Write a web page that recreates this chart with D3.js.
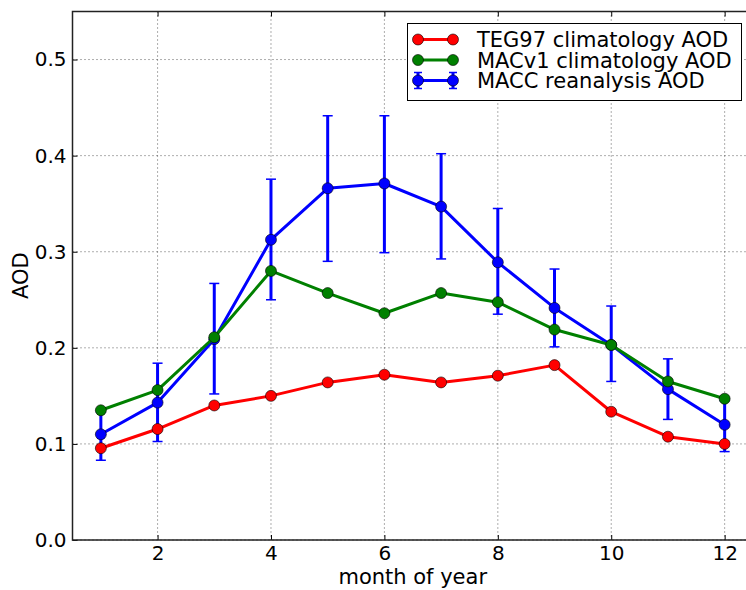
<!DOCTYPE html>
<html lang="en">
<head>
<meta charset="utf-8">
<title>AOD climatology</title>
<script src="https://d3js.org/d3.v7.min.js"></script>
<style>
  body { margin: 0; background: #fff; }
  text { font-family: "DejaVu Sans", sans-serif; fill: #000; }
</style>
</head>
<body>
<script>
// monthly values
var months = [1, 2, 3, 4, 5, 6, 7, 8, 9, 10, 11, 12];
var teg97 = [0.0955, 0.1155, 0.140, 0.150, 0.164, 0.172, 0.164, 0.171, 0.182, 0.1335, 0.1075, 0.100];
var macv1 = [0.135, 0.156, 0.211, 0.280, 0.257, 0.236, 0.257, 0.2475, 0.219, 0.203, 0.165, 0.147];
var macc = [0.110, 0.143, 0.209, 0.3125, 0.366, 0.371, 0.347, 0.289, 0.2415, 0.203, 0.157, 0.120];
var maccHi = [0.133, 0.184, 0.267, 0.3755, 0.4415, 0.4415, 0.402, 0.345, 0.282, 0.2435, 0.1885, 0.145];
var maccLo = [0.083, 0.1025, 0.152, 0.250, 0.290, 0.299, 0.2925, 0.235, 0.201, 0.165, 0.1255, 0.092];
var xTicks = [2, 4, 6, 8, 10, 12];
var yTicks = [0.0, 0.1, 0.2, 0.3, 0.4, 0.5];
var seriesNames = ["TEG97 climatology AOD", "MACv1 climatology AOD", "MACC reanalysis AOD"];
var seriesColors = ["#ff0000", "#008000", "#0000ff"];

var W = 746, H = 590;
var L = 72.5, R = 753, T = 11.5, B = 540;

var svg = d3.select("body").append("svg")
    .attr("width", W)
    .attr("height", H);

var x = d3.scaleLinear().domain([0.5, 12.5]).range([L, R]);
var y = d3.scaleLinear().domain([0, 0.55]).range([B, T]);

// grid
svg.append("g").selectAll("line")
  .data(xTicks).enter().append("line")
    .attr("x1", d => x(d)).attr("x2", d => x(d))
    .attr("y1", T).attr("y2", B)
    .attr("stroke", "#333").attr("stroke-width", 0.8)
    .attr("stroke-dasharray", "1,3");
svg.append("g").selectAll("line")
  .data(yTicks).enter().append("line")
    .attr("x1", L).attr("x2", R)
    .attr("y1", d => y(d)).attr("y2", d => y(d))
    .attr("stroke", "#333").attr("stroke-width", 0.8)
    .attr("stroke-dasharray", "1,3");

// axes: ticks drawn inward, labels outside
var xAxis = d3.axisBottom(x).tickValues(xTicks).tickSize(-5).tickPadding(6).tickFormat(d3.format("d"));
var yAxis = d3.axisLeft(y).tickValues(yTicks).tickSize(-5).tickPadding(6).tickFormat(d3.format(".1f"));

var gx = svg.append("g").attr("transform", "translate(0," + B + ")").call(xAxis);
var gy = svg.append("g").attr("transform", "translate(" + L + ",0)").call(yAxis);
var gxt = svg.append("g").attr("transform", "translate(0," + T + ")")
  .call(d3.axisTop(x).tickValues(xTicks).tickSize(-5).tickFormat(""));
[gx, gy, gxt].forEach(function (g) {
  g.select(".domain").remove();
  g.selectAll(".tick line").attr("stroke", "#000").attr("stroke-width", 1);
  g.selectAll(".tick text").style("font-size", "20px").attr("fill", "#000");
});

// frame
svg.append("rect")
  .attr("x", L).attr("y", T)
  .attr("width", R - L).attr("height", B - T)
  .attr("fill", "none").attr("stroke", "#222").attr("stroke-width", 1.5);

var line = d3.line().x(d => x(d[0])).y(d => y(d[1]));

function drawSeries(vals, color) {
  var pts = months.map((m, i) => [m, vals[i]]);
  svg.append("path")
    .attr("d", line(pts))
    .attr("fill", "none")
    .attr("stroke", color)
    .attr("stroke-width", 3)
    .attr("stroke-linejoin", "round");
  svg.append("g").selectAll("circle")
    .data(pts).enter().append("circle")
      .attr("cx", d => x(d[0]))
      .attr("cy", d => y(d[1]))
      .attr("r", 5.5)
      .attr("fill", color)
      .attr("stroke", "#000")
      .attr("stroke-width", 0.6);
}

// MACC error bars
var eb = svg.append("g");
months.forEach(function (m, i) {
  eb.append("line")
    .attr("x1", x(m)).attr("x2", x(m))
    .attr("y1", y(maccLo[i])).attr("y2", y(maccHi[i]))
    .attr("stroke", seriesColors[2]).attr("stroke-width", 3);
  [maccLo[i], maccHi[i]].forEach(function (v) {
    eb.append("line")
      .attr("x1", x(m) - 5).attr("x2", x(m) + 5)
      .attr("y1", y(v)).attr("y2", y(v))
      .attr("stroke", seriesColors[2]).attr("stroke-width", 1.5);
  });
});
drawSeries(macc, seriesColors[2]);
drawSeries(teg97, seriesColors[0]);
drawSeries(macv1, seriesColors[1]);

// axis titles
svg.append("text")
  .attr("x", (L + R) / 2).attr("y", 584)
  .attr("text-anchor", "middle")
  .style("font-size", "21px")
  .text("month of year");
svg.append("text")
  .attr("transform", "translate(28," + ((T + B) / 2) + ") rotate(-90)")
  .attr("text-anchor", "middle")
  .style("font-size", "21px")
  .text("AOD");

// legend
var lg = svg.append("g");
lg.append("rect")
  .attr("x", 407.5).attr("y", 23.5)
  .attr("width", 334).attr("height", 77)
  .attr("fill", "#fff").attr("stroke", "#000").attr("stroke-width", 1);
var rowY = [39.5, 60, 80.5];
seriesNames.forEach(function (name, i) {
  var c = seriesColors[i];
  if (i === 2) {
    [418, 453].forEach(function (px) {
      lg.append("line").attr("x1", px).attr("x2", px)
        .attr("y1", rowY[i] - 8).attr("y2", rowY[i] + 8)
        .attr("stroke", c).attr("stroke-width", 3);
      [rowY[i] - 8, rowY[i] + 8].forEach(function (py) {
        lg.append("line").attr("x1", px - 4).attr("x2", px + 4)
          .attr("y1", py).attr("y2", py)
          .attr("stroke", c).attr("stroke-width", 1.5);
      });
    });
  }
  lg.append("line")
    .attr("x1", 418).attr("x2", 453)
    .attr("y1", rowY[i]).attr("y2", rowY[i])
    .attr("stroke", c).attr("stroke-width", 3);
  [418, 453].forEach(function (px) {
    lg.append("circle")
      .attr("cx", px).attr("cy", rowY[i]).attr("r", 5.5)
      .attr("fill", c).attr("stroke", "#000").attr("stroke-width", 0.6);
  });
  lg.append("text")
    .attr("x", 477).attr("y", rowY[i])
    .attr("dy", "0.36em")
    .style("font-size", "21px")
    .text(name);
});
</script>
</body>
</html>
